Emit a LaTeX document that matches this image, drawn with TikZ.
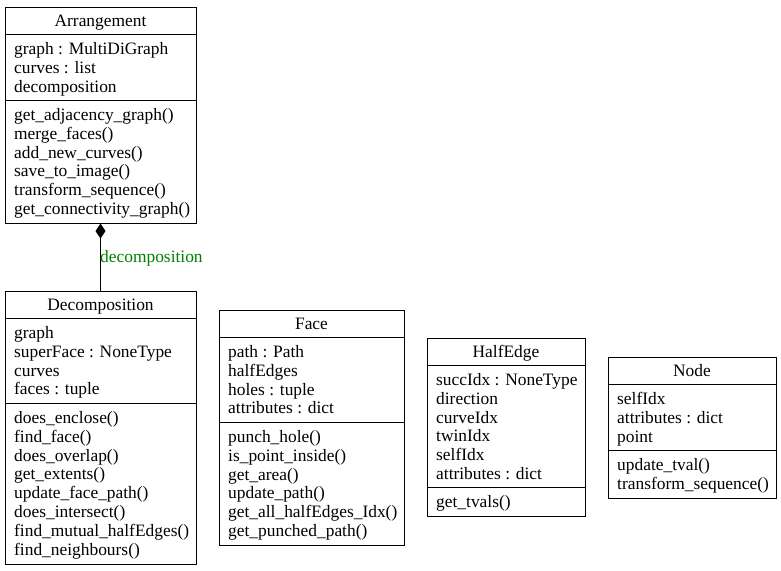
\documentclass[tikz,border=0pt]{standalone}
\usepackage{fontspec}
\setmainfont{Liberation Serif}
\usetikzlibrary{arrows.meta,calc}

\definecolor{rolegreen}{RGB}{0,128,0}
\newcommand\umlfont{\fontsize{17.4}{18.8}\selectfont}

\tikzset{
  classbox/.style={draw=black, line width=1pt, inner sep=0pt, anchor=north west},
  compartment/.style={draw=black, line width=1pt},
  classtitle/.style={anchor=base, inner sep=0pt, font=\umlfont},
  member/.style={anchor=base west, inner sep=0pt, font=\umlfont},
  composition/.style={draw=black, line width=1pt,
    {Diamond[length=15pt,width=10pt,fill=black]}-},
  rolelabel/.style={anchor=base west, inner sep=0pt, font=\umlfont, text=rolegreen}
}

% #1 name, #2 left, #3 top, #4 width, #5 title,
% #6 number of attributes, #7 attributes, #8 number of methods, #9 methods
\newcommand\umlclass[9]{%
  \pgfmathsetmacro\hAttr{round(#6*18.8+9.4)}%
  \pgfmathsetmacro\hMeth{round(#8*18.8+9.4)}%
  \pgfmathsetmacro\hAll{28+\hAttr+\hMeth}%
  \pgfmathsetmacro\sepB{28+\hAttr}%
  \node[classbox, minimum width=#4pt, minimum height=\hAll pt] (#1) at (#2,#3) {};
  \draw[compartment] ($(#1.north west)+(0,28)$) -- ($(#1.north east)+(0,28)$);
  \draw[compartment] ($(#1.north west)+(0,\sepB)$) -- ($(#1.north east)+(0,\sepB)$);
  \node[classtitle] (#1-title) at ($(#1.north)+(0,20)$) {#5};
  \foreach \m [count=\i from 0] in {#7}
    \node[member] (#1-a\i) at ($(#1.north west)+(9.5,{48+\i*18.8})$) {\m};
  \foreach \m [count=\i from 0] in {#9}
    \node[member] (#1-m\i) at ($(#1.north west)+(9.5,{\sepB+20+\i*18.8})$) {\m};
}

\begin{document}
\begin{tikzpicture}[x=1pt, y=-1pt]
  \useasboundingbox (0,0) rectangle (781,570);

  \umlclass{arr}{4.5}{6.5}{191}{Arrangement}
    {3}{graph : MultiDiGraph, curves : list, decomposition}
    {6}{get\_adjacency\_graph(), merge\_faces(), add\_new\_curves(),
        save\_to\_image(), transform\_sequence(), get\_connectivity\_graph()}

  \umlclass{dec}{4.5}{290.5}{191}{Decomposition}
    {4}{graph, superFace : NoneType, curves, faces : tuple}
    {8}{does\_enclose(), find\_face(), does\_overlap(), get\_extents(),
        update\_face\_path(), does\_intersect(), find\_mutual\_halfEdges(),
        find\_neighbours()}

  \umlclass{face}{218.5}{309.5}{185}{Face}
    {4}{path : Path, halfEdges, holes : tuple, attributes : dict}
    {6}{punch\_hole(), is\_point\_inside(), get\_area(), update\_path(),
        get\_all\_halfEdges\_Idx(), get\_punched\_path()}

  \umlclass{he}{426.5}{337.5}{158}{HalfEdge}
    {6}{succIdx : NoneType, direction, curveIdx, twinIdx, selfIdx,
        attributes : dict}
    {1}{get\_tvals()}

  \umlclass{nd}{607.5}{356.5}{168}{Node}
    {3}{selfIdx, attributes : dict, point}
    {2}{update\_tval(), transform\_sequence()}

  % composition: Arrangement owns its Decomposition
  \draw[composition] (arr.south) -- (dec.north);
  \node[rolelabel] (declabel) at ($(arr.south)+(-0.5,39)$) {decomposition};
\end{tikzpicture}
\end{document}
